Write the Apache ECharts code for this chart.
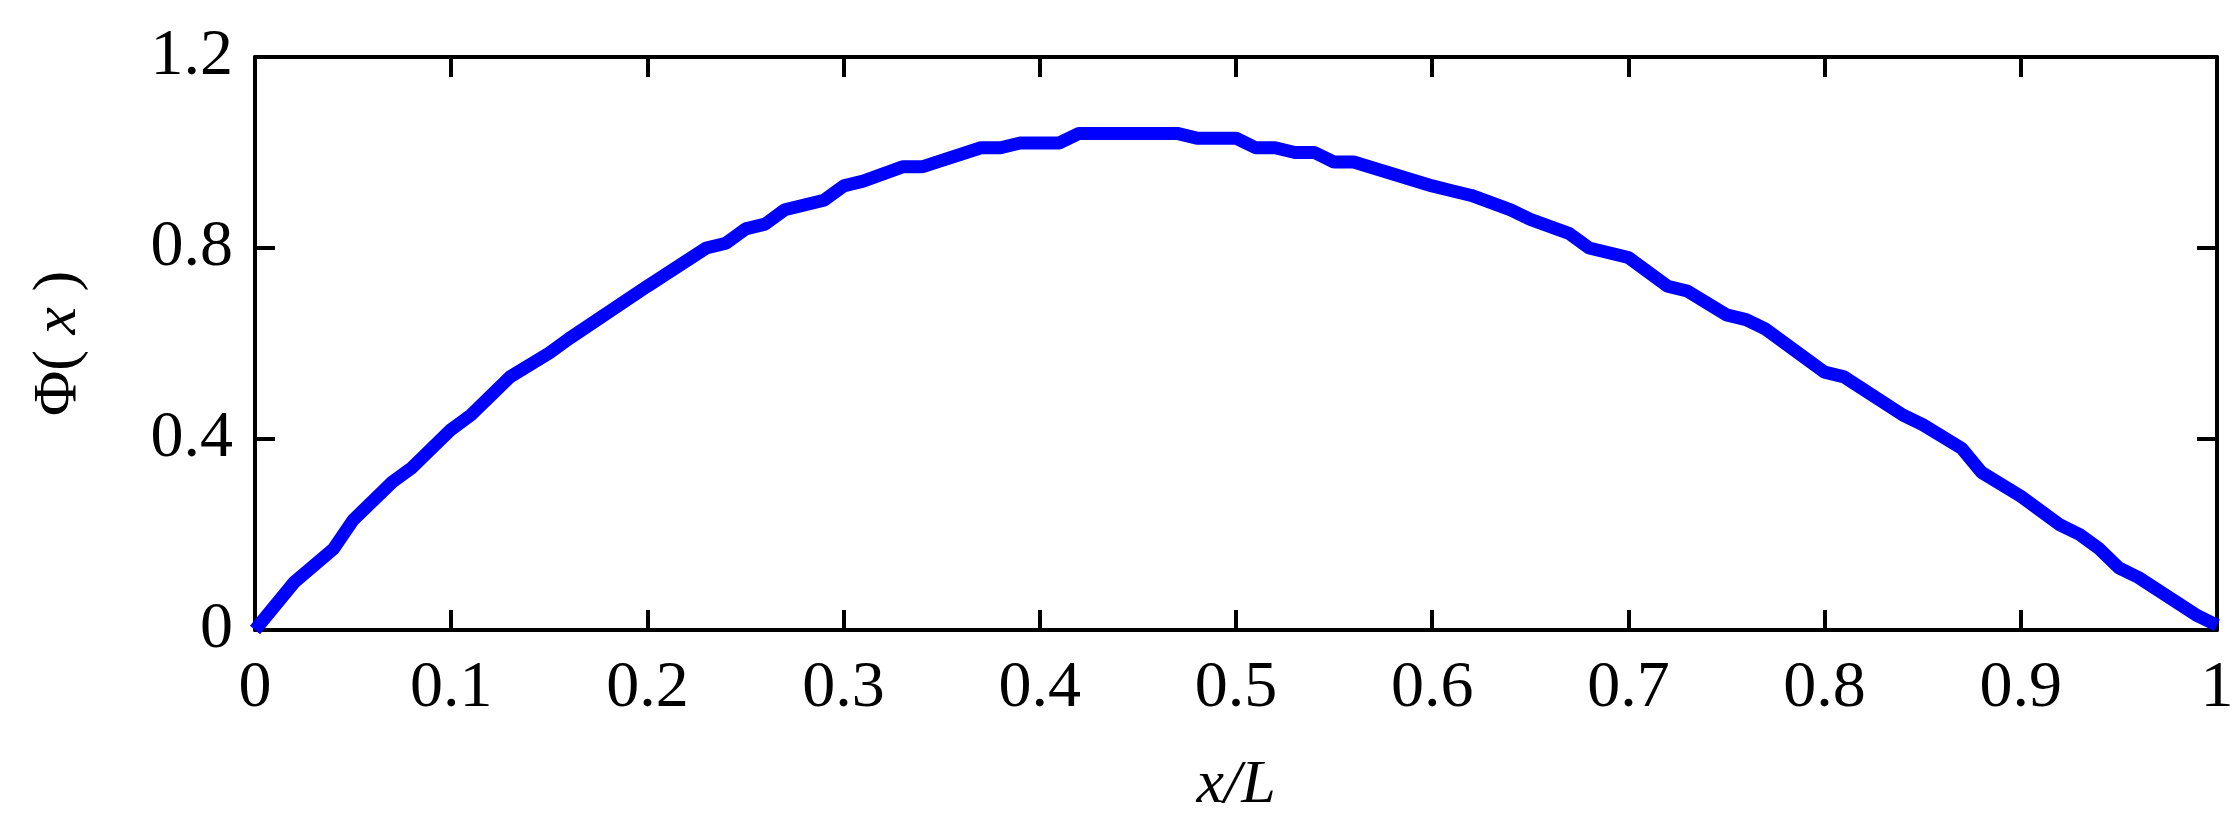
<!DOCTYPE html>
<html><head><meta charset="utf-8">
<script src="https://cdn.jsdelivr.net/npm/echarts@6/dist/echarts.min.js"></script>
<style>html,body{margin:0;padding:0;background:#fff}#c{width:2237px;height:825px}</style>
</head><body><div id="c"></div>
<script>
const xValues = [0,0.02,0.04,0.05,0.07,0.08,0.10,0.11,0.13,0.15,0.16,0.20,0.23,0.24,0.25,0.26,0.27,0.29,0.30,0.31,0.33,0.34,0.37,0.38,0.39,0.41,0.42,0.47,0.48,0.50,0.51,0.52,0.53,0.54,0.55,0.56,0.60,0.61,0.62,0.64,0.65,0.67,0.68,0.69,0.70,0.72,0.73,0.75,0.76,0.77,0.80,0.81,0.84,0.85,0.87,0.88,0.90,0.92,0.93,0.94,0.95,0.96,0.99,1.00];
const phiValues = [0,0.10,0.17,0.23,0.31,0.34,0.42,0.45,0.53,0.58,0.61,0.72,0.80,0.81,0.84,0.85,0.88,0.90,0.93,0.94,0.97,0.97,1.01,1.01,1.02,1.02,1.04,1.04,1.03,1.03,1.01,1.01,1.00,1.00,0.98,0.98,0.93,0.92,0.91,0.88,0.86,0.83,0.80,0.79,0.78,0.72,0.71,0.66,0.65,0.63,0.54,0.53,0.45,0.43,0.38,0.33,0.28,0.22,0.20,0.17,0.13,0.11,0.03,0.01];
const font = 'Liberation Serif';
const lbl = {fontFamily:font,fontSize:66,color:'#000'};
const axLine = {show:true,onZero:false,lineStyle:{color:'#000',width:4}};
const tick = {show:true,inside:true,length:20,lineStyle:{color:'#000',width:4}};
const chart = echarts.init(document.getElementById('c'));
const data = xValues.map((x,i)=>[x,phiValues[i]]);
chart.setOption({
  animation:false,
  grid:{left:255,right:20,top:57,bottom:195},
  xAxis:[{type:'value',min:0,max:1,interval:0.1,axisLine:axLine,axisTick:tick,splitLine:{show:false},
    axisLabel:Object.assign({margin:26,formatter:v=>v===0||v===1?String(v):v.toFixed(1)},lbl),
    name:'x/L',nameLocation:'middle',nameGap:125,nameTextStyle:{fontFamily:font,fontSize:62,fontStyle:'italic',color:'#000'}},
    {type:'value',position:'top',min:0,max:1,interval:0.1,axisLine:axLine,axisTick:tick,axisLabel:{show:false},splitLine:{show:false}}],
  yAxis:[{type:'value',min:0,max:1.2,interval:0.4,axisLine:axLine,axisTick:tick,splitLine:{show:false},
    axisLabel:Object.assign({margin:22,formatter:v=>v===0?'0':v.toFixed(1)},lbl),
    name:'Φ( {i|x} )',nameLocation:'middle',nameGap:165,
    nameTextStyle:{fontFamily:font,fontSize:62,color:'#000',rich:{i:{fontFamily:font,fontSize:62,fontStyle:'italic',color:'#000'}}}},
    {type:'value',position:'right',min:0,max:1.2,interval:0.4,axisLine:axLine,axisTick:tick,axisLabel:{show:false},splitLine:{show:false}}],
  series:[
    {type:'line',data:data,showSymbol:false,lineStyle:{color:'#0000ff',width:13},itemStyle:{color:'#0000ff'},z:5},
    {type:'line',xAxisIndex:1,yAxisIndex:1,data:data,showSymbol:false,lineStyle:{opacity:0},silent:true}
  ]
});
</script></body></html>
